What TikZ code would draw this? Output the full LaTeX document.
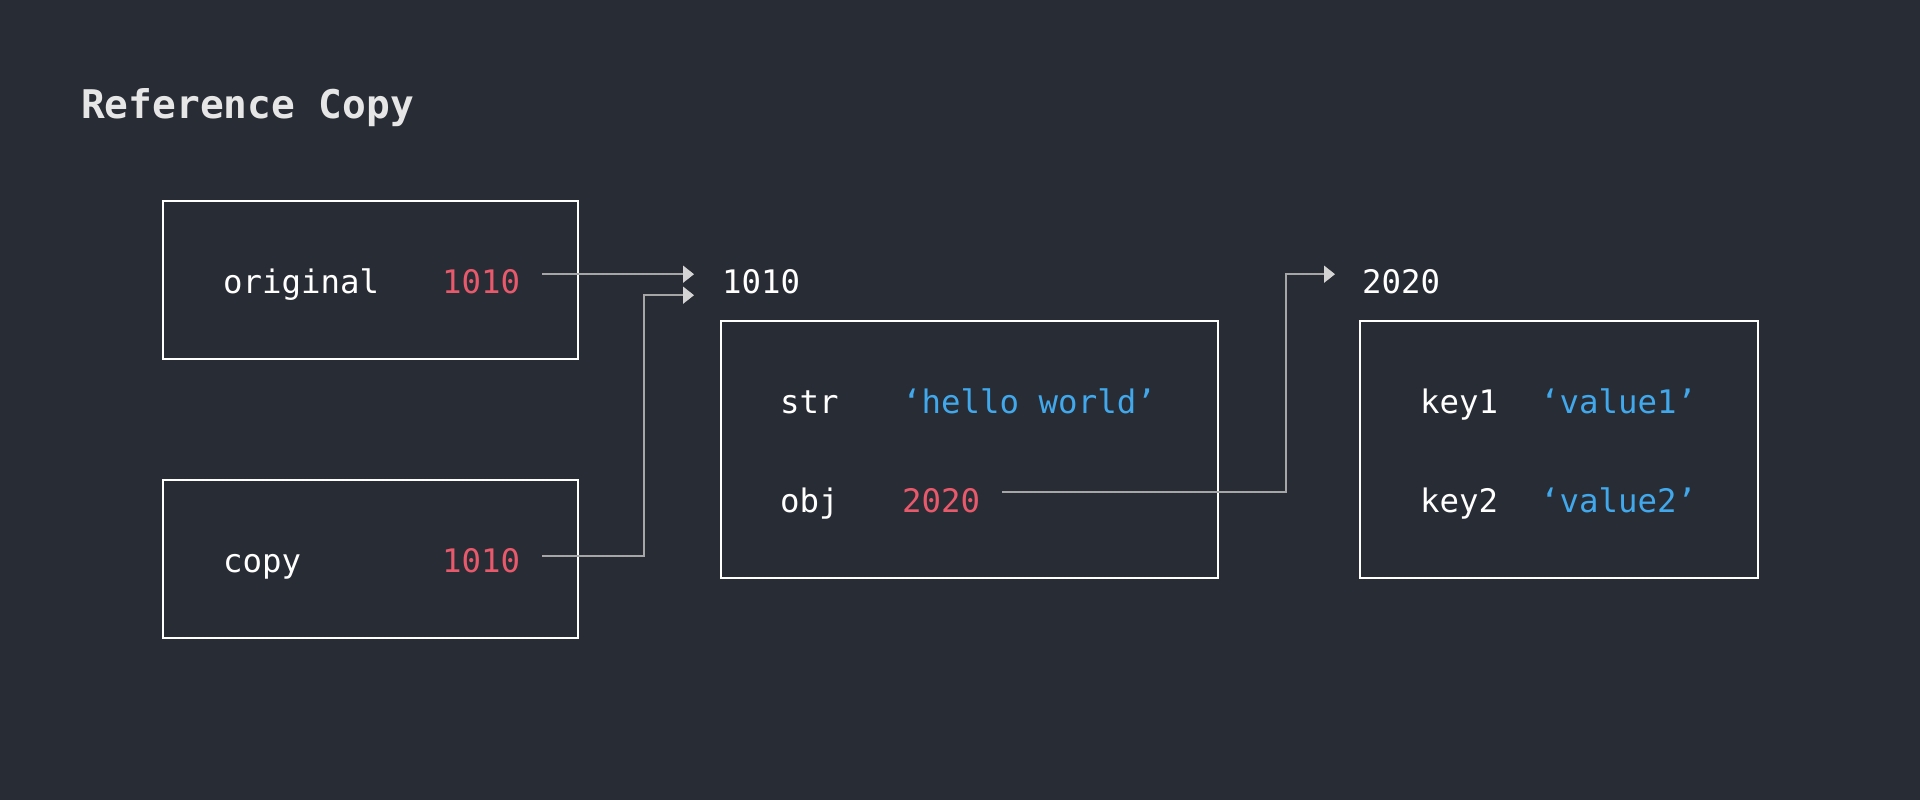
\documentclass[tikz,border=0pt]{standalone}
\usepackage{fontspec}
\usetikzlibrary{arrows.meta,calc}
\newfontfamily\codefont{DejaVu Sans Mono}
\definecolor{bgc}{HTML}{282C35}
\definecolor{redc}{HTML}{E8596B}
\definecolor{bluec}{HTML}{41A8EC}
\definecolor{linec}{HTML}{A6A6A6}
\definecolor{headc}{HTML}{D4D4D4}
\definecolor{titlec}{HTML}{E6E6E6}
\tikzset{
  txt/.style={inner sep=0pt, anchor=base west, text=white, font=\codefont\fontsize{32.4}{38}\selectfont},
  redt/.style={txt, text=redc},
  bluet/.style={txt, text=bluec},
  box/.style={draw=white, line width=2.4pt, inner sep=0pt},
  arr/.style={draw=linec, line width=1.7pt, -{Triangle[length=11pt,width=17pt,fill=headc,color=headc]}},
}
\begin{document}
\begin{tikzpicture}[x=1pt,y=-1pt]
\fill[bgc] (0,0) rectangle (1920,800);
\useasboundingbox (0,0) rectangle (1920,800);

\node[inner sep=0pt, anchor=base west, text=titlec, font=\codefont\bfseries\fontsize{39.5}{46}\selectfont] (title) at (81,118) {Reference Copy};

% boxes
\node[box, minimum width=415pt, minimum height=158pt] (b1) at (370.5,280) {};
\node[box, minimum width=415pt, minimum height=158pt] (b2) at (370.5,559) {};
\node[box, minimum width=497pt, minimum height=257pt] (b3) at (969.5,449.5) {};
\node[box, minimum width=398pt, minimum height=257pt] (b4) at (1559,449.5) {};

% texts in box 1 and 2
\node[txt] (k1) at (223,293) {original};
\node[redt] (v1) at (442,293) {1010};
\node[txt] (k2) at (223,572) {copy};
\node[redt] (v2) at (442,572) {1010};

% address labels
\node[txt] (lab1) at (722,293) {1010};
\node[txt] (lab2) at (1362,293) {2020};

% box 3
\node[txt] (k3) at (780,413) {str};
\node[bluet] (s3) at (902,413) {‘hello world’};
\node[txt] (k4) at (780,512) {obj};
\node[redt] (v3) at (902,512) {2020};

% box 4
\node[txt] (k5) at (1420,413) {key1};
\node[bluet] (s5) at (1540,413) {‘value1’};
\node[txt] (k6) at (1420,512) {key2};
\node[bluet] (s6) at (1540,512) {‘value2’};

% connectors
\draw[arr] ([xshift=22pt,yshift=7pt]v1.east) -- ([xshift=-28pt,yshift=7pt]lab1.west);
\draw[arr] ([xshift=22pt,yshift=4pt]v2.east) -| ([xshift=-78pt,yshift=-14pt]lab1.west) -- ([xshift=-28pt,yshift=-14pt]lab1.west);
\draw[arr] ([xshift=22pt,yshift=8pt]v3.east) -| ([xshift=-76pt,yshift=7pt]lab2.west) -- ([xshift=-27pt,yshift=7pt]lab2.west);
\end{tikzpicture}
\end{document}
